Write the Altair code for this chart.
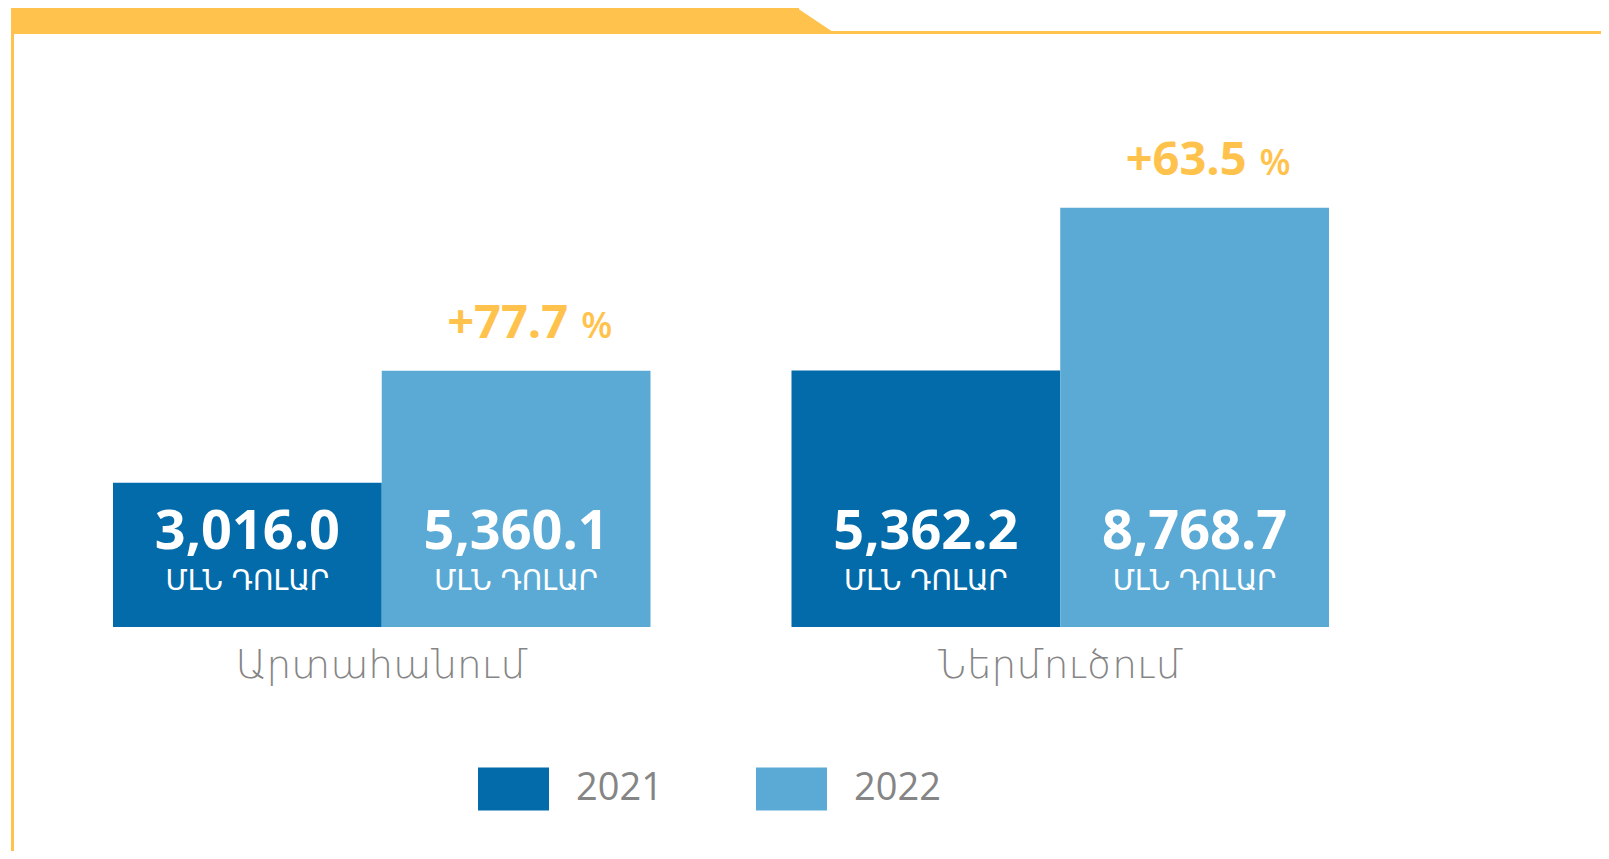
import altair as alt
import pandas as pd

# ---- data ----
categories = ["Արտահանում", "Ներմուծում"]
years = ["2021", "2022"]
values_2021 = [3016.0, 5362.2]
values_2022 = [5360.1, 8768.7]
growth_pct = [77.7, 63.5]
unit_label = "ՄԼՆ ԴՈԼԱՐ"
pct_sign = "%"

# ---- styles ----
colors = ["#036BAA", "#5AAAD5"]
yellow = "#FFC34D"
gray = "#858585"
num_font = "Open Sans"
arm_font = "DejaVu Sans"

rows = []
for i, c in enumerate(categories):
    rows.append({"cat": c, "year": years[0], "value": values_2021[i], "unit": unit_label})
    rows.append({"cat": c, "year": years[1], "value": values_2022[i], "unit": unit_label})
df = pd.DataFrame(rows)
gdf = pd.DataFrame({"cat": categories, "year": [years[1]] * len(categories),
                    "value": values_2022, "growth": growth_pct,
                    "pct": [pct_sign] * len(categories)})
dummy = pd.DataFrame({"d": [0]})

W, H = 1593, 843
x = alt.X("cat:N", sort=categories, axis=None,
          scale=alt.Scale(range=[105, 1321], paddingInner=0.2078, paddingOuter=0))
xo = alt.XOffset("year:N", sort=years, scale=alt.Scale(paddingInner=0, paddingOuter=0))
y = alt.Y("value:Q", axis=None,
          scale=alt.Scale(domain=[0, 12944], range=[619, 0], nice=False, zero=True))

base = alt.Chart(df)

bars = base.mark_bar(opacity=1).encode(
    x=x, xOffset=xo, y=y,
    color=alt.Color("year:N", sort=years,
                    scale=alt.Scale(domain=years, range=colors),
                    legend=alt.Legend(
                        title=None, orient="none", legendX=470, legendY=745,
                        direction="horizontal",
                        symbolType="M-1,-0.606L1,-0.606L1,0.606L-1,0.606Z",
                        symbolSize=5041, symbolStrokeWidth=0, symbolOpacity=1,
                        labelFont=num_font, labelFontSize=38, labelColor=gray,
                        labelOffset=27, columnPadding=93, padding=0,
                        labelBaseline="middle")),
)

val_text = base.mark_text(font=num_font, fontSize=54, fontWeight="bold",
                          color="white", baseline="alphabetic", align="center").encode(
    x=x, xOffset=xo, y=alt.value(541),
    text=alt.Text("value:Q", format=",.1f"),
)

unit_text = base.mark_text(font=arm_font, fontSize=28, color="white",
                           baseline="alphabetic", align="center").encode(
    x=x, xOffset=xo, y=alt.value(582), text="unit:N",
)

gbase = alt.Chart(gdf)
growth_text = gbase.mark_text(font=num_font, fontSize=47, fontWeight="bold",
                              color=yellow, baseline="alphabetic", align="right",
                              dx=52, dy=-33).encode(
    x=x, xOffset=xo, y=y, text=alt.Text("growth:Q", format="+.1f"),
)
pct_text = gbase.mark_text(font=num_font, fontSize=36, fontWeight=600,
                           color=yellow, baseline="alphabetic", align="left",
                           dx=65, dy=-33).encode(
    x=x, xOffset=xo, y=y, text="pct:N",
)

cat_df = pd.DataFrame({"cat": categories})
cat_text = alt.Chart(cat_df).mark_text(font=arm_font, fontSize=39, fontWeight=200,
                                       color=gray, baseline="alphabetic",
                                       align="center").encode(
    x=x, y=alt.value(670), text="cat:N",
)

# ---- decorations ----
d = alt.Chart(dummy)
band = d.mark_rect(color=yellow).encode(
    x=alt.value(3), x2=alt.value(791), y=alt.value(0), y2=alt.value(26))
slant = d.mark_point(shape="M-1.05,-0.684L1,0.684L-1.05,0.684Z", size=1444,
                     filled=True, color=yellow, opacity=1, strokeWidth=0).encode(
    x=alt.value(809), y=alt.value(13))
thin = d.mark_rule(color=yellow, strokeWidth=3).encode(
    x=alt.value(820), x2=alt.value(W), y=alt.value(24.5))
left = d.mark_rule(color=yellow, strokeWidth=3).encode(
    x=alt.value(4.5), y=alt.value(20), y2=alt.value(H))

chart = alt.layer(
    band, slant, thin, left,
    bars, val_text, unit_text, growth_text, pct_text, cat_text,
).properties(
    width=W, height=H, autosize=alt.AutoSizeParams(type="none"), padding=0,
    background="white",
).configure_view(stroke=None)

chart.save("out.html", embed_options={"renderer": "svg", "actions": False})
